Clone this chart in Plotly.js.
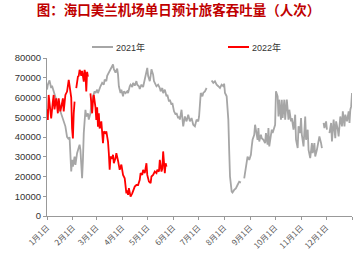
<!DOCTYPE html>
<html>
<head>
<meta charset="utf-8">
<script src="https://cdn.plot.ly/plotly-3.0.1.min.js"></script>
<style>html,body{margin:0;padding:0;background:#fff;}#chart{width:357px;height:254px;}</style>
</head>
<body>
<div id="chart"></div>
<script>
// Day-of-year (0 = Jan 1) and daily passenger throughput
const days2021 = [0,1,3,5,6,8,10,12,14,16,18,20,22,24,26,27,29,30,31,33,34,36,37,39,40,42,43,44,46,47,49,50,52,53,55,57,58,60,61,63,64,66,68,69,71,72,74,76,77,79,80,82,84,85,86,88,89,91,92,94,96,97,99,100,102,103,105,107,108,110,111,113,115,116,118,120,121,123,124,125,127,128,130,131,133,135,136,138,139,141,143,144,146,147,149,150,152,154,155,157,158,159,
161,163,165,167,169,171,173,175,177,179,181,182,184,186,187,189,191,194,197,199,201,203,205,207,209,211,212,213,215,216,217,218,219,221,222,224,226,228,230,232,234,236,237,239,240,242,244,245,246,248,249,250,252,253,254,256,257,259,261,262,264,265,266,268,269,270,272,273,274,276,277,278,280,281,282,284,285,287,289,290,292,293,295,297,298,300,301,303,304,305,307,309,310,312,313,315,317,318,320,321,323,325,326,328,329,330,331,332,334,335,337,338,340,341,343,345,346,348,349,351,353,354,356,357,359,361,362,363,364,365];
const vals2021 = [64000,66500,68700,64800,66000,63100,60600,57200,54700,53000,50400,47900,45400,40000,38900,40000,22500,28400,25000,30100,25900,31800,33500,36100,33500,19100,28400,42000,53800,50400,52000,48800,52000,56400,60600,63100,62200,64000,62200,64800,65700,67400,66500,69100,68300,71000,72600,74300,75000,76700,74300,72600,74600,71600,65700,62200,64000,60600,63100,62200,63100,62200,65700,66500,65300,67400,66000,68300,66500,65700,64300,66500,65300,67400,71000,75000,71000,68300,71000,74300,71600,68300,66500,65700,66500,64800,63100,64800,62200,64000,60600,61400,58000,58900,56400,57200,53000,51300,52100,49500,50400,48800,
53800,45400,50400,47900,51300,47900,49600,46200,45400,48800,47900,50400,62300,60600,62300,63100,64800,null,68600,67400,68200,66500,65700,64800,66500,65700,67000,62300,60600,53800,48800,33500,20000,12400,11900,13200,14000,15700,17400,16900,null,19100,21700,25900,30100,28400,31000,35200,38600,41100,46200,43700,38600,44500,37700,41100,39400,38600,36900,42000,36100,44500,35200,41100,43700,42000,45400,46200,63100,60600,50400,58900,48800,58900,49600,58900,48800,58900,48800,53800,47900,49600,43700,51300,38600,34400,45400,42000,49600,41100,35200,50400,38600,43700,33500,29300,36900,31800,36900,30100,33500,38600,40300,36900,34400,null,47100,44500,47900,43700,null,42000,47100,37700,48800,39400,47900,43700,40300,50400,45400,53000,45400,51300,47900,53000,47100,53800,55500,62300];

const days2022 = [0,1,2,4,5,7,8,9,11,12,13,14,16,17,19,20,21,22,24,25,26,27,29,30,31,32,33,34,35,36,37,38,39,40,41,42,43,44,45,46,47,48,49,50,52,53,54,55,56,58,59,60,61,62,63,65,66,67,68,70,71,72,73,74,75,76,78,79,80,82,83,85,86,87,89,90,91,93,94,95,96,97,98,99,100,102,104,105,107,109,111,112,114,115,117,118,119,120,121,122,124,125,127,129,131,132,134,135,137,138,139,141,142,143];
const vals2022 = [54000,48600,61300,54500,49400,57900,61300,54000,59600,56000,52000,59600,53000,55000,59600,53000,58500,61300,63000,66400,68900,66000,60000,44300,39300,52000,57900,null,64700,68000,70600,71000,74000,73000,71000,73500,70000,68000,74000,72000,63000,73000,70500,null,62100,56200,52000,58000,61300,55000,48600,55000,45200,52000,44300,47900,39400,36900,42800,42000,42800,40300,37700,31800,23400,30100,29000,31000,26700,29300,31800,28000,25000,23400,26000,24000,20800,19100,13200,11500,13000,10700,14100,11500,9800,11500,13200,14900,15700,15700,18300,21700,20800,23400,21700,24200,26700,20800,18300,17400,16600,20000,20800,22500,21700,23400,22500,28400,22500,24000,32700,21700,26700,25000];

const monthDays = [0,31,59,90,120,151,181,212,243,273,304,334,365];
const monthLabels = ['1月1日','2月1日','3月1日','4月1日','5月1日','6月1日','7月1日','8月1日','9月1日','10月1日','11月1日','12月1日',''];
const seriesNames = ['2021年','2022年'];
const seriesColors = ['#A6A6A6','#FF0000'];

const traces = [
  {x: days2021, y: vals2021, name: seriesNames[0], type:'scatter', mode:'lines',
   line:{color:seriesColors[0], width:1.8}, connectgaps:false},
  {x: days2022, y: vals2022, name: seriesNames[1], type:'scatter', mode:'lines',
   line:{color:seriesColors[1], width:1.8}, connectgaps:false}
];

// manual legend (paper coordinates relative to plot area: x 47..352, y 216..58)
const W = 305, H = 158, L = 47, B = 216;
const px = v => (v - L) / W;
const py = v => (B - v) / H;
const legendStarts = [92, 228];
const shapes = legendStarts.map((s, i) => ({
  type:'line', xref:'paper', yref:'paper', x0:px(s), x1:px(s+21), y0:py(47), y1:py(47),
  line:{color:seriesColors[i], width:2}
}));
const annotations = legendStarts.map((s, i) => ({
  xref:'paper', yref:'paper', x:px(s+22), y:py(47), xanchor:'left', yanchor:'middle',
  text:seriesNames[i], showarrow:false,
  font:{family:'Liberation Sans, Noto Sans CJK SC', size:9, color:'#333'}
}));

const layout = {
  width:357, height:254,
  margin:{l:47, r:5, t:58, b:38},
  paper_bgcolor:'#ffffff', plot_bgcolor:'#ffffff',
  font:{family:'Liberation Sans, Arial, sans-serif', color:'#333'},
  title:{text:'图：海口美兰机场单日预计旅客吞吐量（人次）',
    font:{family:'Noto Sans CJK SC', size:13.5, color:'#C00000', weight:'bold'},
    x:0.5, xanchor:'center', xref:'container', y:1-10/254, yref:'container', yanchor:'middle'},
  showlegend:false,
  shapes: shapes,
  annotations: annotations,
  xaxis:{range:[0,365], tickmode:'array', tickvals:monthDays, ticktext:monthLabels,
    tickangle:-45, showline:true, linecolor:'#999', linewidth:1, ticks:'outside', ticklen:3,
    tickcolor:'#999', showgrid:false, zeroline:false,
    tickfont:{family:'Noto Sans CJK SC', size:8, color:'#555'}},
  yaxis:{range:[0,80000], dtick:10000, tick0:0, showline:true, linecolor:'#999', linewidth:1,
    ticks:'outside', ticklen:3, tickcolor:'#999', showgrid:false, zeroline:false,
    tickformat:'d', tickfont:{family:'Liberation Sans', size:9.5, color:'#333'}}
};

Plotly.newPlot('chart', traces, layout, {staticPlot:true, displayModeBar:false});
</script>
</body>
</html>
